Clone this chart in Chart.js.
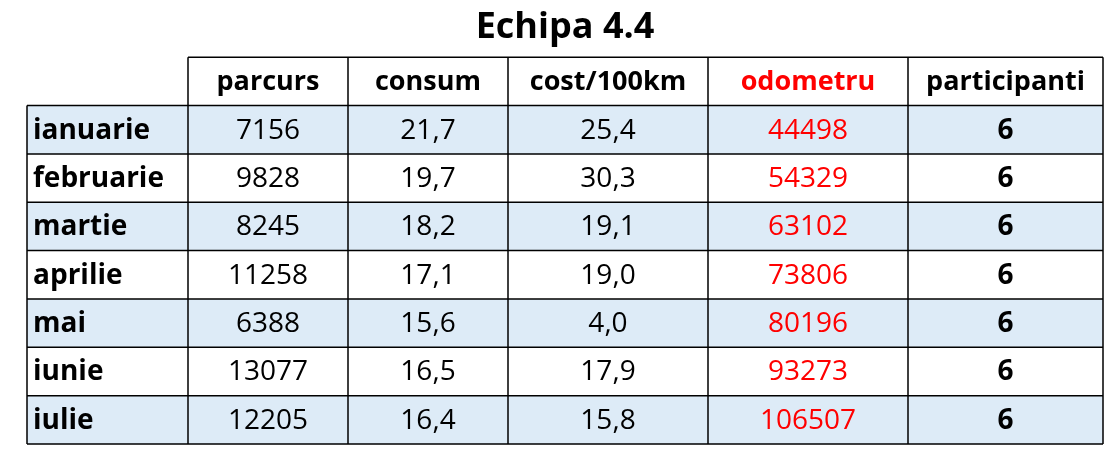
<!DOCTYPE html>
<html>
<head>
<meta charset="utf-8">
<script src="https://cdn.jsdelivr.net/npm/chart.js@4"></script>
<style>
  html, body { margin: 0; padding: 0; background: #fff; }
  #wrap { width: 1116px; height: 452px; }
</style>
</head>
<body>
<div id="wrap"><canvas id="myChart"></canvas></div>
<script>
const title = "Echipa 4.4";
const months = ["ianuarie", "februarie", "martie", "aprilie", "mai", "iunie", "iulie"];
const headers = ["parcurs", "consum", "cost/100km", "odometru", "participanti"];
const parcurs = ["7156", "9828", "8245", "11258", "6388", "13077", "12205"];
const consum = ["21,7", "19,7", "18,2", "17,1", "15,6", "16,5", "16,4"];
const cost = ["25,4", "30,3", "19,1", "19,0", "4,0", "17,9", "15,8"];
const odometru = ["44498", "54329", "63102", "73806", "80196", "93273", "106507"];
const participanti = ["6", "6", "6", "6", "6", "6", "6"];

// column widths (layout only)
const colWidths = [161, 160, 160, 200, 200, 195];
const colEdges = colWidths.reduce((a, w) => { a.push(a[a.length - 1] + w); return a; }, [0]);
const columns = [parcurs, consum, cost, odometru, participanti];
const colColors = ["#000", "#000", "#000", "#ff0000", "#000"];
const colBold = [false, false, false, false, true];
const headColors = ["#000", "#000", "#000", "#ff0000", "#000"];
const FONT = "'Open Sans', 'Liberation Sans', sans-serif";

const tablePlugin = {
  id: "table",
  afterDraw(chart) {
    const c = chart.ctx, x = chart.scales.x, y = chart.scales.y;
    const X = i => x.getPixelForValue(colEdges[i]);
    const Y = r => y.getPixelForValue(r);
    c.save();
    // fills
    months.forEach((m, r) => {
      if (r % 2 === 0) {
        c.fillStyle = "#ddebf7";
        c.fillRect(X(0), Y(r + 1), X(6) - X(0), Y(r + 2) - Y(r + 1));
      }
    });
    // borders
    c.strokeStyle = "#000";
    c.lineWidth = 1.5;
    c.beginPath();
    for (let r = 0; r <= 8; r++) {
      const xs = r === 0 ? X(1) : X(0);
      c.moveTo(xs, Y(r)); c.lineTo(X(6), Y(r));
    }
    for (let i = 0; i <= 6; i++) {
      c.moveTo(X(i), i === 0 ? Y(1) : Y(0)); c.lineTo(X(i), Y(8));
    }
    c.stroke();
    // header text
    c.textBaseline = "middle";
    c.textAlign = "center";
    headers.forEach((h, i) => {
      c.font = "bold 27px " + FONT;
      c.fillStyle = headColors[i];
      c.fillText(h, (X(i + 1) + X(i + 2)) / 2, (Y(0) + Y(1)) / 2 + 1);
    });
    // rows
    months.forEach((m, r) => {
      const cy = (Y(r + 1) + Y(r + 2)) / 2 + 1;
      c.textAlign = "left";
      c.font = "bold 28px " + FONT;
      c.fillStyle = "#000";
      c.fillText(m, X(0) + 6, cy);
      c.textAlign = "center";
      columns.forEach((col, i) => {
        c.font = (colBold[i] ? "bold " : "") + "28px " + FONT;
        c.fillStyle = colColors[i];
        c.fillText(col[r], (X(i + 1) + X(i + 2)) / 2, cy);
      });
    });
    c.restore();
  }
};

const ctx = document.getElementById("myChart").getContext("2d");
const myChart = new Chart(ctx, {
  type: "scatter",
  data: { datasets: [{ data: [] }] },
  options: {
    responsive: true,
    maintainAspectRatio: false,
    animation: false,
    layout: { padding: { left: 27, right: 13, top: 6, bottom: 8 } },
    plugins: {
      legend: { display: false },
      tooltip: { enabled: false },
      title: {
        display: true,
        text: title,
        color: "#000",
        font: { size: 36, weight: "bold", family: FONT },
        padding: { top: 0, bottom: 8 }
      }
    },
    scales: {
      x: { type: "linear", min: 0, max: colEdges[6], display: false },
      y: { type: "linear", min: 0, max: 8, reverse: true, display: false }
    }
  },
  plugins: [tablePlugin]
});
</script>
</body>
</html>
